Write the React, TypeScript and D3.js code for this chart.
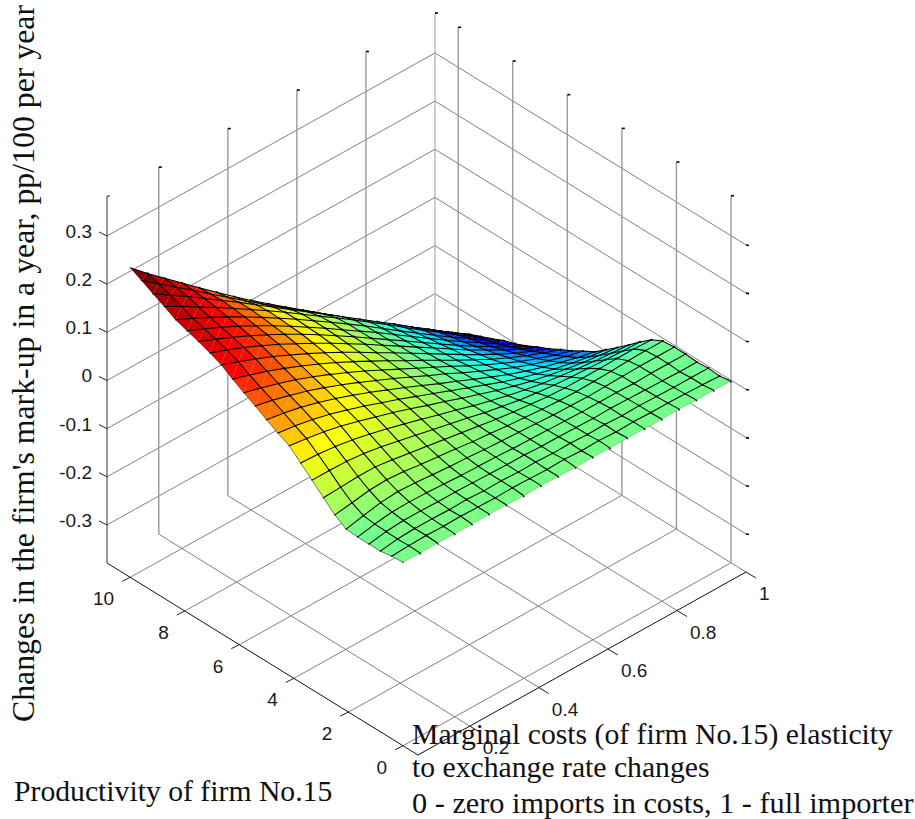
import * as d3 from "d3";

const xValues = d3.range(20).map((i) => 0.05 + i * 0.05);
const yValues = d3.range(25).map((i) => (i * 10) / 24);

// z[row][col]: row follows productivity (0 to 10), col follows elasticity (0.05 to 1)
const zRows = [
  [0.002, 0.001, 0.002, 0.001, 0.001, 0.002, 0.001, 0.0, 0.001, 0.0, -0.001, 0.0, -0.001, 0.0, -0.001, -0.001, 0.0, -0.001, -0.001, -0.002],
  [0.0, 0.002, 0.003, 0.002, 0.003, 0.002, 0.001, 0.002, 0.001, 0.0, 0.001, -0.001, 0.0, -0.002, -0.001, -0.002, -0.002, -0.003, -0.004, -0.006],
  [-0.004, 0.001, 0.003, 0.003, 0.002, 0.003, 0.001, 0.002, 0.0, 0.001, -0.001, 0.0, -0.002, -0.001, -0.003, -0.002, -0.003, -0.004, -0.004, -0.004],
  [-0.004, 0.002, 0.005, 0.005, 0.004, 0.004, 0.003, 0.002, 0.001, 0.001, -0.001, -0.001, -0.002, -0.003, -0.002, -0.003, -0.004, -0.005, -0.006, -0.006],
  [-0.004, 0.003, 0.008, 0.009, 0.008, 0.006, 0.004, 0.003, 0.002, 0.0, -0.001, -0.002, -0.003, -0.004, -0.004, -0.004, -0.005, -0.004, -0.004, -0.004],
  [-0.002, 0.006, 0.013, 0.016, 0.014, 0.011, 0.008, 0.006, 0.003, 0.001, -0.001, -0.003, -0.005, -0.006, -0.007, -0.006, -0.005, -0.004, -0.004, -0.004],
  [0.013, 0.018, 0.024, 0.026, 0.023, 0.018, 0.014, 0.01, 0.005, 0.002, -0.002, -0.005, -0.008, -0.01, -0.011, -0.01, -0.009, -0.007, -0.006, -0.006],
  [0.034, 0.036, 0.038, 0.038, 0.033, 0.027, 0.021, 0.015, 0.009, 0.003, -0.003, -0.008, -0.012, -0.016, -0.018, -0.018, -0.018, -0.017, -0.017, -0.018],
  [0.056, 0.056, 0.055, 0.051, 0.045, 0.037, 0.029, 0.021, 0.013, 0.005, -0.004, -0.011, -0.018, -0.023, -0.027, -0.03, -0.032, -0.034, -0.036, -0.037],
  [0.077, 0.075, 0.071, 0.065, 0.057, 0.048, 0.038, 0.028, 0.017, 0.007, -0.004, -0.014, -0.023, -0.031, -0.038, -0.043, -0.048, -0.052, -0.055, -0.058],
  [0.098, 0.093, 0.087, 0.079, 0.069, 0.058, 0.047, 0.035, 0.022, 0.01, -0.003, -0.015, -0.027, -0.038, -0.048, -0.056, -0.063, -0.069, -0.074, -0.078],
  [0.11, 0.105, 0.098, 0.089, 0.078, 0.066, 0.053, 0.04, 0.026, 0.012, -0.002, -0.016, -0.03, -0.044, -0.056, -0.067, -0.077, -0.085, -0.092, -0.097],
  [0.123, 0.117, 0.109, 0.099, 0.087, 0.074, 0.06, 0.045, 0.03, 0.014, -0.002, -0.017, -0.033, -0.048, -0.063, -0.076, -0.088, -0.098, -0.108, -0.116],
  [0.137, 0.129, 0.119, 0.108, 0.095, 0.081, 0.066, 0.05, 0.034, 0.017, 0.0, -0.016, -0.034, -0.051, -0.067, -0.083, -0.097, -0.109, -0.12, -0.129],
  [0.15, 0.14, 0.129, 0.117, 0.103, 0.088, 0.072, 0.055, 0.037, 0.019, 0.001, -0.017, -0.035, -0.054, -0.072, -0.089, -0.105, -0.119, -0.132, -0.143],
  [0.164, 0.152, 0.14, 0.126, 0.111, 0.095, 0.078, 0.06, 0.041, 0.022, 0.002, -0.017, -0.037, -0.057, -0.076, -0.095, -0.112, -0.128, -0.142, -0.155],
  [0.179, 0.165, 0.151, 0.136, 0.119, 0.102, 0.084, 0.065, 0.045, 0.024, 0.004, -0.017, -0.038, -0.059, -0.08, -0.1, -0.119, -0.137, -0.153, -0.168],
  [0.189, 0.175, 0.16, 0.144, 0.127, 0.108, 0.089, 0.069, 0.048, 0.027, 0.005, -0.017, -0.039, -0.061, -0.083, -0.105, -0.125, -0.145, -0.163, -0.179],
  [0.198, 0.183, 0.167, 0.15, 0.132, 0.113, 0.093, 0.072, 0.05, 0.028, 0.005, -0.018, -0.041, -0.064, -0.087, -0.11, -0.132, -0.153, -0.173, -0.191],
  [0.206, 0.19, 0.173, 0.155, 0.136, 0.116, 0.095, 0.073, 0.051, 0.028, 0.005, -0.018, -0.042, -0.066, -0.09, -0.114, -0.137, -0.159, -0.181, -0.201],
  [0.214, 0.197, 0.179, 0.16, 0.14, 0.119, 0.097, 0.075, 0.052, 0.029, 0.005, -0.019, -0.044, -0.069, -0.094, -0.118, -0.142, -0.165, -0.188, -0.209],
  [0.227, 0.207, 0.186, 0.165, 0.143, 0.121, 0.098, 0.075, 0.051, 0.027, 0.003, -0.021, -0.046, -0.071, -0.097, -0.122, -0.147, -0.172, -0.196, -0.22],
  [0.239, 0.216, 0.193, 0.169, 0.145, 0.121, 0.096, 0.071, 0.046, 0.021, -0.004, -0.029, -0.054, -0.079, -0.104, -0.13, -0.155, -0.18, -0.205, -0.23],
  [0.252, 0.225, 0.198, 0.171, 0.144, 0.117, 0.09, 0.063, 0.037, 0.011, -0.014, -0.04, -0.066, -0.092, -0.117, -0.142, -0.167, -0.192, -0.216, -0.24],
  [0.264, 0.232, 0.202, 0.172, 0.142, 0.113, 0.084, 0.056, 0.029, 0.002, -0.024, -0.051, -0.078, -0.104, -0.129, -0.154, -0.178, -0.203, -0.228, -0.253],
];

const xTicks = [0.2, 0.4, 0.6, 0.8, 1];
const yTicks = [0, 2, 4, 6, 8, 10];
const zTicks = [-0.3, -0.2, -0.1, 0, 0.1, 0.2, 0.3];

const jetStops = ["#00008f", "#0000ff", "#00ffff", "#7fff7f", "#ffff00", "#ff0000", "#800000"];

const width = 915;
const height = 819;

const xLim: [number, number] = [0.05, 1];
const yLim: [number, number] = [-0.55, 10.85];
const zLim: [number, number] = [-0.379, 0.383];

// axis scales: each returns the screen offset of one data axis
const xToSx = d3.scaleLinear().domain(xLim).range([0, 328]);
const xToSy = d3.scaleLinear().domain(xLim).range([0, -183]);
const yToSx = d3.scaleLinear().domain(yLim).range([0, -311]);
const yToSy = d3.scaleLinear().domain(yLim).range([0, -192]);
const zToSy = d3.scaleLinear().domain(zLim).range([0, -367]);

// floor corner at (xmin, ymin)
const originX = 418;
const originY = 755;

const project = (x: number, y: number, z: number): [number, number] => [
  originX + xToSx(x) + yToSx(y),
  originY + xToSy(x) + yToSy(y) + zToSy(z),
];

const zMin = d3.min(zRows.flat()) as number;
const zMax = d3.max(zRows.flat()) as number;
const jet = d3
  .scaleLinear<string>()
  .domain(d3.range(7).map((i) => zMin + ((zMax - zMin) * i) / 6))
  .range(jetStops)
  .interpolate(d3.interpolateRgb);

const GRID = "#808080";
const VGRID = "#9a9a9a";
const fmt = (p: [number, number]) => `${p[0].toFixed(2)},${p[1].toFixed(2)}`;

function Seg({ a, b, stroke = GRID, w = 1 }: { a: [number, number]; b: [number, number]; stroke?: string; w?: number }) {
  return <line x1={a[0]} y1={a[1]} x2={b[0]} y2={b[1]} stroke={stroke} strokeWidth={w} />;
}

const nudge = (p: [number, number], dx: number, dy: number): [number, number] => [p[0] + dx, p[1] + dy];

export default function App() {
  const [x0, x1] = xLim;
  const [y0, y1] = yLim;
  const [z0, z1] = zLim;

  // painted far to near so nearer quads cover farther ones
  const quads: React.ReactNode[] = [];
  for (let r = yValues.length - 2; r >= 0; r--) {
    for (let c = xValues.length - 2; c >= 0; c--) {
      const a = project(xValues[c], yValues[r], zRows[r][c]);
      const b = project(xValues[c + 1], yValues[r], zRows[r][c + 1]);
      const d = project(xValues[c + 1], yValues[r + 1], zRows[r + 1][c + 1]);
      const e = project(xValues[c], yValues[r + 1], zRows[r + 1][c]);
      const fill = jet(zRows[r + 1][c]);
      quads.push(
        <g key={`${r}-${c}`}>
          <polygon points={[a, b, d].map(fmt).join(" ")} fill={fill} />
          <polygon points={[a, d, e].map(fmt).join(" ")} fill={fill} />
          <polyline points={[b, d, e].map(fmt).join(" ")} fill="none" stroke="#000" strokeWidth={1.05} />
          <circle cx={d[0]} cy={d[1]} r={1.1} fill="#000" />
          {c === 0 ? <Seg a={a} b={e} stroke="#222" w={0.6} /> : null}
          {r === 0 ? <Seg a={a} b={b} stroke="#4d8f4d" w={0.4} /> : null}
          {r === 0 ? <circle cx={b[0]} cy={b[1] + 0.6} r={0.9} fill="#222" /> : null}
          {c === 0 ? <circle cx={a[0]} cy={a[1]} r={0.8} fill="#222" /> : null}
        </g>
      );
    }
  }

  const axisFont = { fontFamily: "Liberation Sans", fontSize: 19, fill: "#1a1a1a" };
  const titleFont = { fontFamily: "Liberation Serif", fontSize: 29.7, fill: "#111" };

  return (
    <svg
      width={width}
      height={height}
      style={{ position: "absolute", left: 0, top: 0, background: "#fff" }}
    >
      {/* wall grid, z levels */}
      {zTicks.map((z) => (
        <g key={z}>
          <Seg a={project(x0, y1, z)} b={project(x1, y1, z)} />
          <Seg a={project(x1, y1, z)} b={project(x1, y0, z)} />
          <Seg a={project(x1, y0, z)} b={nudge(project(x1, y0, z), 3, 0.5)} stroke="#000" w={1.6} />
          <Seg a={project(x0, y1, z)} b={nudge(project(x0, y1, z), -8, -4)} stroke="#222" />
          <text {...axisFont} x={92} y={project(x0, y1, z)[1] + 2} textAnchor="end">
            {z}
          </text>
        </g>
      ))}
      {/* wall grid, verticals */}
      {xTicks.map((x) => (
        <g key={x}>
          <Seg a={project(x, y1, z0)} b={project(x, y1, z1)} stroke={VGRID} w={x === 1 ? 1 : 1.4} />
          <Seg a={project(x, y1, z1)} b={nudge(project(x, y1, z1), 3, 0)} stroke="#000" w={1.6} />
          <Seg a={project(x, y1, z0)} b={project(x, y0, z0)} />
          <Seg a={project(x, y0, z0)} b={nudge(project(x, y0, z0), 10, 6)} stroke="#222" />
          <text {...axisFont} x={project(x, y0, z0)[0] + 13} y={project(x, y0, z0)[1] + 28}>
            {x}
          </text>
        </g>
      ))}
      {yTicks.map((y) => (
        <g key={y}>
          <Seg a={project(x1, y, z0)} b={project(x1, y, z1)} stroke={VGRID} w={1.4} />
          <Seg a={project(x1, y, z1)} b={nudge(project(x1, y, z1), 3, 0)} stroke="#000" w={1.6} />
          <Seg a={project(x0, y, z0)} b={project(x1, y, z0)} />
          <Seg a={project(x0, y, z0)} b={nudge(project(x0, y, z0), -8, 4)} stroke="#222" />
          <text {...axisFont} x={project(x0, y, z0)[0] - 16} y={project(x0, y, z0)[1] + 28} textAnchor="end">
            {y}
          </text>
        </g>
      ))}
      {/* axes */}
      <Seg a={project(x0, y1, z0)} b={project(x0, y1, z1)} stroke="#333" />
      <Seg a={project(x0, y1, z1)} b={nudge(project(x0, y1, z1), 3, 0)} stroke="#222" />
      <Seg a={project(x0, y1, z0)} b={project(x0, y0, z0)} stroke="#111" />
      <Seg a={project(x0, y0, z0)} b={project(x1, y0, z0)} stroke="#111" />

      <g>{quads}</g>

      <text {...titleFont} fontSize={31.8} transform="translate(34,722) rotate(-90)">
        Changes in the firm's mark-up in a year, pp/100 per year
      </text>
      <text {...titleFont} x={14} y={801}>
        Productivity of firm No.15
      </text>
      <text {...titleFont} x={412} y={744}>
        Marginal costs (of firm No.15) elasticity
      </text>
      <text {...titleFont} x={412} y={777}>
        to exchange rate changes
      </text>
      <text {...titleFont} fontSize={30.3} x={412} y={813}>
        0 - zero imports in costs, 1 - full importer
      </text>
    </svg>
  );
}
